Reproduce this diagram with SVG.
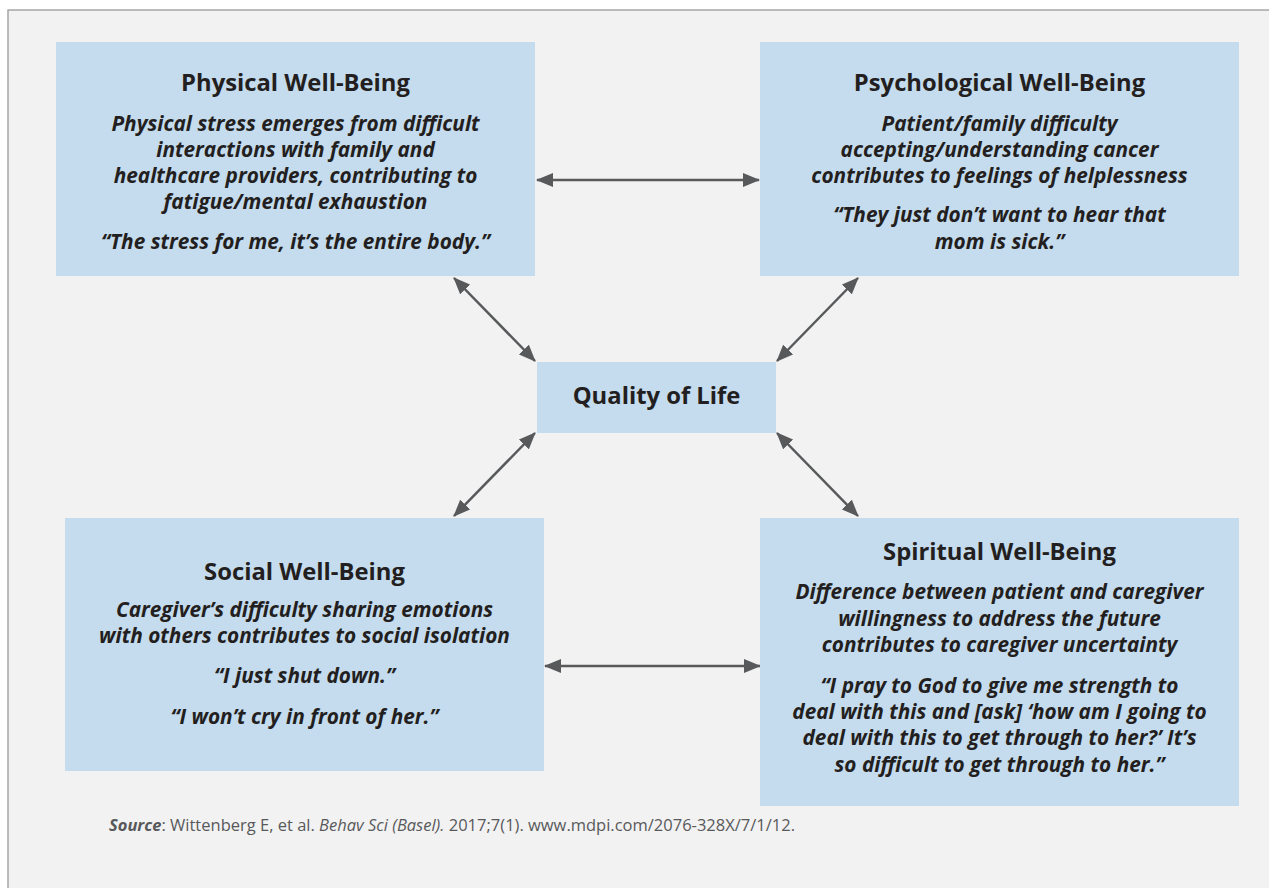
<svg xmlns="http://www.w3.org/2000/svg" width="1269" height="888" viewBox="0 0 1269 888">
<defs>
<style>
.box{fill:#c5dbee}
.title{font-family:"Open Sans","Liberation Sans",sans-serif;font-weight:700;font-size:23.8px;fill:#231f20;text-anchor:middle}
.body{font-family:"Open Sans","Liberation Sans",sans-serif;font-weight:700;font-style:italic;font-size:20.8px;fill:#231f20;text-anchor:middle}
.conn{stroke:#58595b;stroke-width:2.5;fill:none;marker-start:url(#ah);marker-end:url(#ah)}
.src{font-family:"Open Sans","Liberation Sans",sans-serif;font-size:16.5px;fill:#58595b}
</style>
<marker id="ah" viewBox="0 0 17 14" refX="16" refY="7" markerWidth="17" markerHeight="14" markerUnits="userSpaceOnUse" orient="auto-start-reverse">
<path d="M0,0 L17,7 L0,14 z" fill="#58595b"/>
</marker>
</defs>
<rect x="0" y="0" width="1269" height="888" fill="#ffffff"/>
<rect x="8" y="10" width="1275" height="890" fill="#f2f2f2" stroke="#a6a6a6" stroke-width="1.5"/>

<g id="connectors">
<line class="conn" x1="537" y1="180" x2="759" y2="180"/>
<line class="conn" x1="545" y1="666" x2="760" y2="666"/>
<line class="conn" x1="454" y1="278" x2="535" y2="361"/>
<line class="conn" x1="858" y1="278" x2="777" y2="361"/>
<line class="conn" x1="535" y1="433" x2="454" y2="516"/>
<line class="conn" x1="777" y1="433" x2="858" y2="516"/>
</g>

<g id="physical">
<rect class="box" x="56" y="42" width="479" height="234"/>
<text class="title" x="295.5" y="91">Physical Well-Being</text>
<text class="body" x="295.5" y="131">Physical stress emerges from difficult</text>
<text class="body" x="295.5" y="157">interactions with family and</text>
<text class="body" x="295.5" y="183">healthcare providers, contributing to</text>
<text class="body" x="295.5" y="209">fatigue/mental exhaustion</text>
<text class="body" x="295.5" y="249">“The stress for me, it’s the entire body.”</text>
</g>

<g id="psychological">
<rect class="box" x="760" y="42" width="479" height="234"/>
<text class="title" x="999.5" y="91">Psychological Well-Being</text>
<text class="body" x="999.5" y="131">Patient/family difficulty</text>
<text class="body" x="999.5" y="157">accepting/understanding cancer</text>
<text class="body" x="999.5" y="183">contributes to feelings of helplessness</text>
<text class="body" x="999.5" y="222">“They just don’t want to hear that</text>
<text class="body" x="999.5" y="249">mom is sick.”</text>
</g>

<g id="quality">
<rect class="box" x="537" y="362" width="239" height="71"/>
<text class="title" x="656.5" y="404">Quality of Life</text>
</g>

<g id="social">
<rect class="box" x="65" y="518" width="479" height="253"/>
<text class="title" x="304.5" y="580">Social Well-Being</text>
<text class="body" x="304.5" y="617">Caregiver’s difficulty sharing emotions</text>
<text class="body" x="304.5" y="643">with others contributes to social isolation</text>
<text class="body" x="304.5" y="683">“I just shut down.”</text>
<text class="body" x="304.5" y="724">“I won’t cry in front of her.”</text>
</g>

<g id="spiritual">
<rect class="box" x="760" y="518" width="479" height="288"/>
<text class="title" x="999.5" y="560">Spiritual Well-Being</text>
<text class="body" x="999.5" y="599">Difference between patient and caregiver</text>
<text class="body" x="999.5" y="626">willingness to address the future</text>
<text class="body" x="999.5" y="652">contributes to caregiver uncertainty</text>
<text class="body" x="999.5" y="693">“I pray to God to give me strength to</text>
<text class="body" x="999.5" y="719">deal with this and [ask] ‘how am I going to</text>
<text class="body" x="999.5" y="745">deal with this to get through to her?’ It’s</text>
<text class="body" x="999.5" y="772">so difficult to get through to her.”</text>
</g>

<g id="source">
<text class="src" x="109" y="831"><tspan font-weight="700" font-style="italic">Source</tspan>: Wittenberg E, et al. <tspan font-style="italic">Behav Sci (Basel).</tspan> 2017;7(1). www.mdpi.com/2076-328X/7/1/12.</text>
</g>
</svg>
